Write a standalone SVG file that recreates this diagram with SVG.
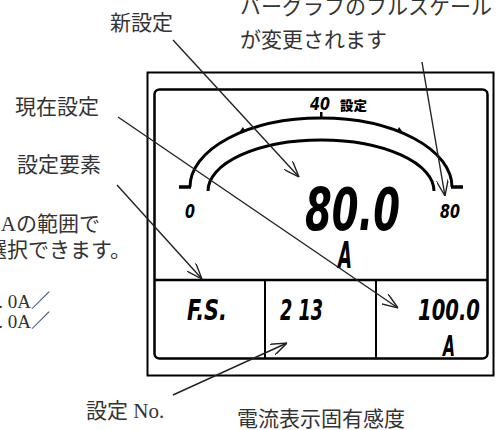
<svg xmlns="http://www.w3.org/2000/svg" width="504" height="430" viewBox="0 0 504 430">
<style>
.lbl{font-family:"Liberation Serif","Noto Sans CJK JP",serif;font-size:21px;fill:#333}
.lcd{font-family:"DejaVu Sans Condensed","DejaVu Sans",sans-serif;font-weight:bold;font-style:italic;fill:#000}
.frame{fill:none;stroke:#000}
.arc{fill:none;stroke:#000;stroke-width:3}
.conn{fill:none;stroke:#222;stroke-width:1.4}
</style>
<defs>
<marker id="arr" viewBox="0 0 16 12" refX="16" refY="6" markerWidth="16" markerHeight="12" markerUnits="userSpaceOnUse" orient="auto">
<path d="M0,0 L16,6 L0,12" fill="none" stroke="#222" stroke-width="1.4"/>
</marker>
</defs>
<rect width="504" height="430" fill="#fff"/>
<g id="labels">
<text class="lbl" x="110" y="30">新設定</text>
<text class="lbl" x="240" y="14">バーグラフのフルスケール</text>
<text class="lbl" x="240" y="47">が変更されます</text>
<text class="lbl" x="15" y="114">現在設定</text>
<text class="lbl" x="17" y="172">設定要素</text>
<text class="lbl" x="100" y="231" text-anchor="end">Aの範囲で</text>
<text class="lbl" x="131" y="257" text-anchor="end">選択できます。</text>
<text class="lbl" x="50" y="308" text-anchor="end" style="font-size:19px">0. 0A／</text>
<text class="lbl" x="50" y="328" text-anchor="end" style="font-size:19px">6. 0A／</text>
<text class="lbl" x="86" y="418">設定 No.</text>
<text class="lbl" x="237" y="426">電流表示固有感度</text>
</g>
<g id="meter">
<rect class="frame" x="147.5" y="72.5" width="346" height="303" stroke-width="2"/>
<rect class="frame" x="154.5" y="89.5" width="333" height="269" rx="5" stroke-width="2.5"/>
<line class="frame" x1="154.5" y1="280" x2="487.5" y2="280" stroke-width="2.5"/>
<line class="frame" x1="265" y1="280" x2="265" y2="359" stroke-width="2"/>
<line class="frame" x1="376" y1="280" x2="376" y2="359" stroke-width="2"/>
</g>
<g id="bargraph">
<path class="arc" d="M190,187 A131,69 0 0 1 452,187"/>
<path class="arc" d="M208,191 A113,51 0 0 1 434,191"/>
<line x1="179" y1="187" x2="191" y2="187" stroke="#000" stroke-width="3.5"/>
<line x1="451" y1="187" x2="463" y2="187" stroke="#000" stroke-width="3.5"/>
<rect x="320" y="112" width="2.5" height="6" fill="#000"/>
<path d="M240,131 L243,127 L245,131 Z" fill="#000"/>
<path d="M397,131 L399,127 L402,131 Z" fill="#000"/>
<text class="lcd" x="310" y="110" font-size="17" textLength="20" lengthAdjust="spacingAndGlyphs">40</text>
<text x="340" y="110" font-family="Noto Sans CJK JP,sans-serif" font-weight="900" font-size="13" textLength="27" lengthAdjust="spacingAndGlyphs">設定</text>
<text class="lcd" x="185" y="218" font-size="19" textLength="10" lengthAdjust="spacingAndGlyphs">0</text>
<text class="lcd" x="440" y="218" font-size="19" textLength="20" lengthAdjust="spacingAndGlyphs">80</text>
</g>
<g id="main-display">
<text class="lcd" x="305" y="230" font-size="58" textLength="95" lengthAdjust="spacingAndGlyphs">80.0</text>
<text class="lcd" x="338" y="268" font-size="38" font-style="normal" textLength="14" lengthAdjust="spacingAndGlyphs">A</text>
</g>
<g id="cell-element">
<text class="lcd" x="187" y="320" font-size="29" textLength="40" lengthAdjust="spacingAndGlyphs">F.S.</text>
</g>
<g id="cell-number">
<text class="lcd" x="280" y="320" font-size="29" textLength="43" lengthAdjust="spacingAndGlyphs">2 13</text>
</g>
<g id="cell-value">
<text class="lcd" x="418" y="320" font-size="29" textLength="62" lengthAdjust="spacingAndGlyphs">100.0</text>
<text class="lcd" x="443" y="356" font-size="29" font-style="normal" textLength="12" lengthAdjust="spacingAndGlyphs">A</text>
</g>
<g id="connectors">
<line class="conn" x1="173" y1="40" x2="299" y2="177" marker-end="url(#arr)"/>
<line class="conn" x1="422" y1="62" x2="445" y2="196" marker-end="url(#arr)"/>
<line class="conn" x1="118" y1="117" x2="398" y2="308" marker-end="url(#arr)"/>
<line class="conn" x1="117" y1="185" x2="202" y2="279" marker-end="url(#arr)"/>
<line class="conn" x1="173" y1="395" x2="287" y2="343" marker-end="url(#arr)"/>
</g>
</svg>
